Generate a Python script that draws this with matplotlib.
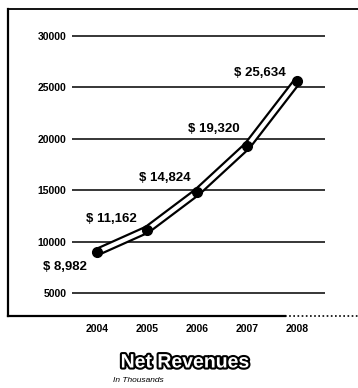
import matplotlib.pyplot as plt
import matplotlib.patheffects as pe
from matplotlib.lines import Line2D

# net revenues, in thousands
years = [2004, 2005, 2006, 2007, 2008]
revenues = [8982, 11162, 14824, 19320, 25634]
labels = ['$ 8,982', '$ 11,162', '$ 14,824', '$ 19,320', '$ 25,634']
yticks = [5000, 10000, 15000, 20000, 25000, 30000]

W, H = 358, 388
fig = plt.figure(figsize=(W / 100, H / 100), dpi=100)
fig.patch.set_facecolor('white')

# axes placed in pixel units
ax = fig.add_axes([72 / W, 1 - 316 / H, (325 - 72) / W, (316 - 9) / H])
ax.set_xlim(2003.5, 2008.55)
ax.set_ylim(2760, 32630)
for s in ax.spines.values():
    s.set_visible(False)

for v in yticks:
    ax.axhline(v, color='black', lw=1.1, zorder=1)

ax.set_yticks(yticks)
ax.set_yticklabels([str(v) for v in yticks])
ax.set_xticks(years)
ax.set_xticklabels([str(y) for y in years])
ax.tick_params(axis='y', length=0, pad=4, labelsize=7.5)
ax.tick_params(axis='x', length=0, pad=6, labelsize=7.5)
for t in ax.get_xticklabels() + ax.get_yticklabels():
    t.set_fontfamily('Liberation Sans')
    t.set_fontweight('bold')

# double (outlined) line
ax.plot(years, revenues, color='black', lw=6.2, solid_capstyle='round', zorder=3)
ax.plot(years, revenues, color='white', lw=3.0, solid_capstyle='round', zorder=4)
ax.plot(years, revenues, 'o', color='black', ms=7, zorder=5)

# value labels (offsets in points)
offsets = [(-23, -11), (-26, 8), (-23, 10), (-24, 12), (-27, 6)]
for x, y, lab, off in zip(years, revenues, labels, offsets):
    ax.annotate(lab, (x, y), xytext=off, textcoords='offset points',
                ha='center', va='center', fontsize=9.5, fontweight='bold',
                fontfamily='Liberation Sans', zorder=6)

# frame around the chart
def fline(x0, y0, x1, y1, **kw):
    fig.add_artist(Line2D([x0 / W, x1 / W], [1 - y0 / H, 1 - y1 / H],
                          transform=fig.transFigure, color='black', **kw))

fline(8, 9, 8, 316, lw=1.6)
fline(8, 9, 358, 9, lw=1.3)
fline(8, 316, 285, 316, lw=1.6)
fline(285, 316, 358, 316, lw=1.2, ls=(0, (1, 1.5)))

# title
fig.text(185 / W, 1 - 363 / H, 'Net Revenues', ha='center', va='center',
         fontsize=14, fontweight='bold', fontfamily='Liberation Sans',
         color='white',
         path_effects=[pe.withStroke(linewidth=3, foreground='black')])
fig.text(113 / W, 1 - 381 / H, 'In Thousands', ha='left', va='center',
         fontsize=6, style='italic', fontfamily='Liberation Sans', color='black')

fig.savefig('out.png', dpi=100)
